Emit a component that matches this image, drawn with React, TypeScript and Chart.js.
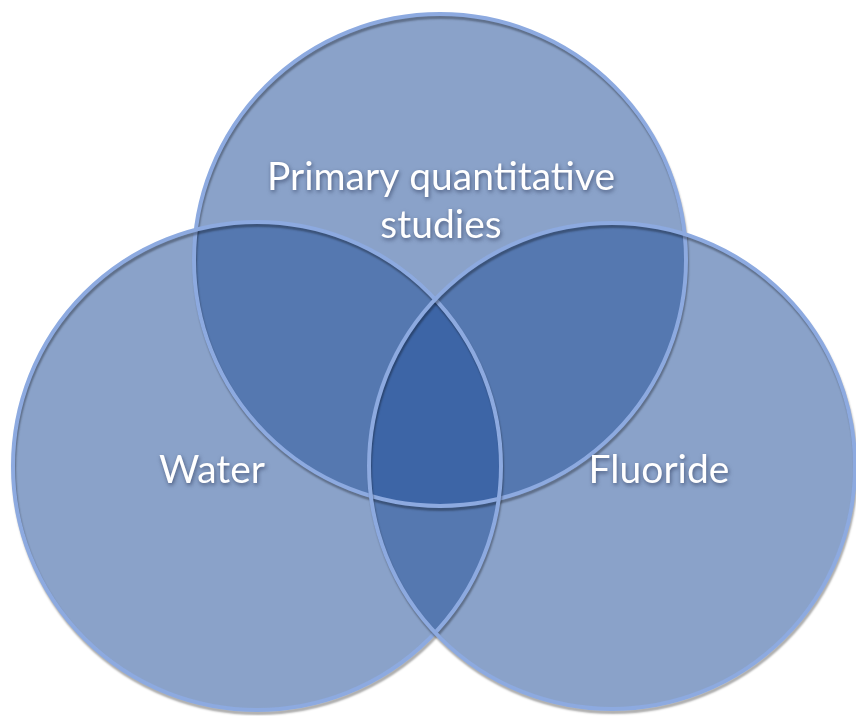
import React, { useEffect, useRef } from "react";
import { Chart, registerables } from "chart.js";

Chart.register(...registerables);

// Venn circles (in chart units; y grows downward)
const setNames = ["Primary quantitative studies", "Water", "Fluoride"];
const centerX = [440, 257, 612];
const centerY = [260, 466, 466];
const radius = [246, 244, 243];

// Label anchor points (chart units)
const labelLines = [["Primary quantitative", "studies"], ["Water"], ["Fluoride"]];
const labelX = [441, 212, 659];
const labelY = [201, 470, 470];

const FILL = "rgba(42,86,157,0.55)";
const EDGE = "rgb(141,170,224)";

const labelPlugin = {
  id: "vennLabels",
  afterDatasetsDraw(chart: any) {
    const { ctx, scales } = chart;
    const x = scales.x;
    const y = scales.y;
    ctx.save();
    ctx.font = "39px Lato, 'Open Sans', sans-serif";
    ctx.fillStyle = "#ffffff";
    ctx.textAlign = "center";
    ctx.textBaseline = "middle";
    ctx.shadowColor = "rgba(20,30,60,0.55)";
    ctx.shadowBlur = 4;
    ctx.shadowOffsetX = 1;
    ctx.shadowOffsetY = 2;
    const lineH = 48;
    labelLines.forEach((lines, i) => {
      const px = x.getPixelForValue(labelX[i]);
      const py = y.getPixelForValue(labelY[i]);
      const start = py - ((lines.length - 1) * lineH) / 2;
      lines.forEach((t, j) => ctx.fillText(t, px, start + j * lineH));
    });
    ctx.restore();
  },
};

const shadowPlugin = {
  id: "edgeShadow",
  beforeDatasetDraw(chart: any, args: any) {
    const ds = chart.data.datasets[args.index];
    if (ds.isEdge) {
      const ctx = chart.ctx;
      ctx.save();
      ctx.shadowColor = "rgba(0,0,0,0.32)";
      ctx.shadowBlur = 2;
      ctx.shadowOffsetX = 1;
      ctx.shadowOffsetY = 3;
    }
  },
  afterDatasetDraw(chart: any, args: any) {
    const ds = chart.data.datasets[args.index];
    if (ds.isEdge) chart.ctx.restore();
  },
};

export default function App() {
  const ref = useRef<HTMLCanvasElement>(null);
  useEffect(() => {
    if (!ref.current) return;
    const points = setNames.map((_, i) => ({ x: centerX[i], y: centerY[i], r: radius[i] }));
    const chart = new Chart(ref.current, {
      type: "bubble",
      data: {
        datasets: [
          {
            label: "edge",
            isEdge: true,
            data: points,
            backgroundColor: "rgba(0,0,0,0)",
            borderColor: EDGE,
            borderWidth: 4,
            clip: false,
            order: 0,
          } as any,
          {
            label: "fill",
            data: points,
            backgroundColor: FILL,
            borderWidth: 0,
            clip: false,
            order: 1,
          } as any,
        ],
      },
      options: {
        animation: false,
        responsive: true,
        maintainAspectRatio: false,
        layout: { padding: 0, autoPadding: false },
        events: [],
        plugins: { legend: { display: false }, tooltip: { enabled: false } },
        scales: {
          x: { type: "linear", min: 0, max: 856, display: false },
          y: { type: "linear", min: 0, max: 716, reverse: true, display: false },
        },
      },
      plugins: [shadowPlugin, labelPlugin],
    });
    return () => chart.destroy();
  }, []);
  return (
    <div style={{ position: "fixed", left: 0, top: 0, width: 856, height: 716, background: "#fff" }}>
      <canvas ref={ref} />
    </div>
  );
}
